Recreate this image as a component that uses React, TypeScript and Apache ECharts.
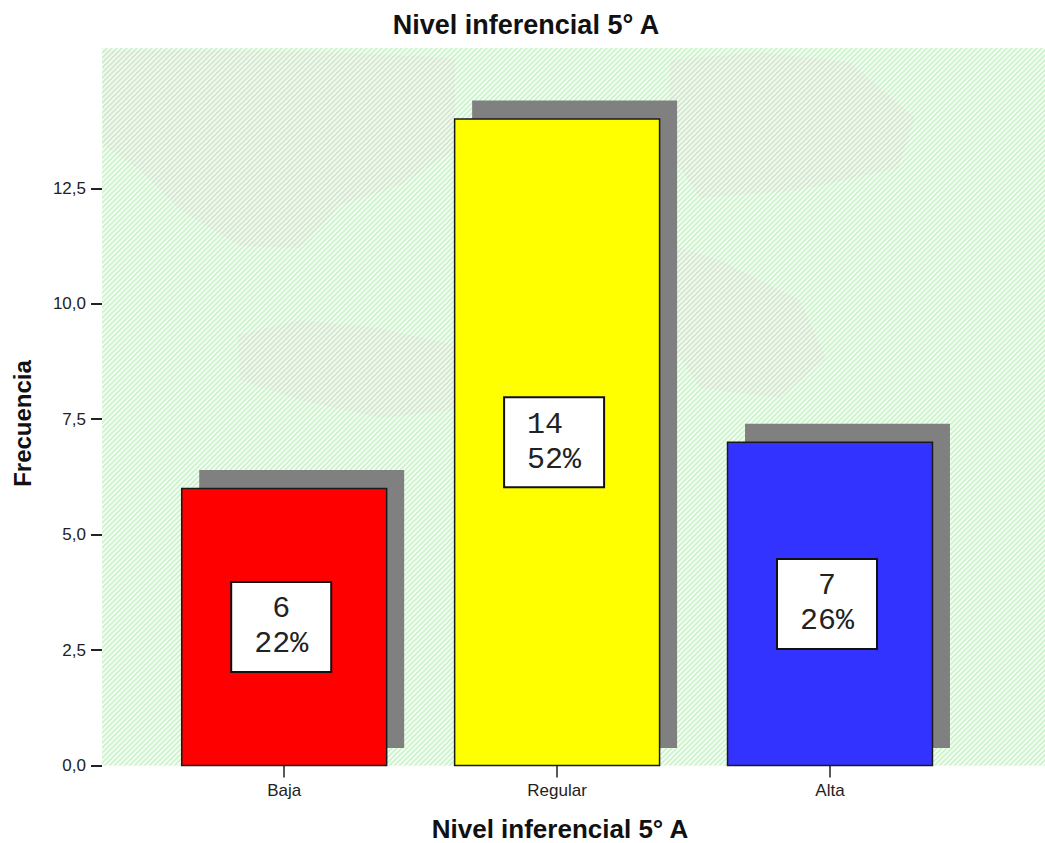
import React, { useEffect, useRef } from "react";
import * as echarts from "echarts";

const categories = ["Baja", "Regular", "Alta"];
const counts = [6, 14, 7];
const barColors = ["#ff0000", "#ffff00", "#3333ff"];
const chartTitle = "Nivel inferencial 5° A";
const xAxisName = "Nivel inferencial 5° A";
const yAxisName = "Frecuencia";

function stripePattern(bg: string, fg: string) {
  const svg = `<svg xmlns='http://www.w3.org/2000/svg' width='5' height='5'><rect width='5' height='5' fill='${bg}'/><path d='M-1 1L1 -1M0 5L5 0M4 6L6 4' stroke='${fg}' stroke-width='1.8'/></svg>`;
  return {
    image: "data:image/svg+xml;charset=utf-8," + encodeURIComponent(svg),
    repeat: "repeat",
    imageWidth: 5,
    imageHeight: 5,
  };
}

export default function App() {
  const ref = useRef<HTMLDivElement>(null);

  useEffect(() => {
    if (!ref.current) return;
    const chart = echarts.init(ref.current, undefined, { renderer: "svg" });
    const total = counts.reduce((a, b) => a + b, 0);
    const nb = "\u00a0";

    const grayFill = stripePattern("#f1f6ee", "#d6ddcf");
    const blobs = [
      [[103, 50], [200, 50], [330, 52], [455, 58], [455, 150], [400, 185], [340, 205], [300, 248], [240, 246], [180, 210], [140, 170], [103, 145]],
      [[238, 335], [300, 320], [380, 328], [455, 345], [455, 410], [380, 418], [300, 400], [240, 380]],
      [[670, 60], [760, 52], [850, 62], [915, 118], [898, 168], [800, 190], [700, 198], [668, 150]],
      [[662, 242], [720, 260], [800, 300], [826, 358], [780, 398], [700, 388], [662, 330]],
    ];

    const textStyleBold = {
      fontFamily: "'Liberation Sans', Arial, sans-serif",
      fontWeight: "bold",
      fill: "#111",
      align: "center",
      verticalAlign: "middle",
    };

    const option: any = {
      animation: false,
      graphic: [
        {
          type: "rect",
          z: 0,
          shape: { x: 102, y: 48, width: 943, height: 717.5 },
          style: { fill: "#ebf9ea" },
        },
        {
          type: "rect",
          z: 0,
          shape: { x: 102, y: 48, width: 943, height: 717.5 },
          style: { fill: stripePattern("#f6fff5", "#cdf3cd") },
        },
        ...blobs.map((pts) => ({
          type: "polygon",
          z: 0,
          shape: { points: pts },
          style: { fill: grayFill, opacity: 0.55 },
        })),
        {
          type: "text",
          z: 5,
          x: 526,
          y: 25,
          style: { ...textStyleBold, text: chartTitle, fontSize: 27 },
        },
        {
          type: "text",
          z: 5,
          x: 560,
          y: 829,
          style: { ...textStyleBold, text: xAxisName, fontSize: 26 },
        },
        {
          type: "text",
          z: 5,
          x: 22,
          y: 423.5,
          rotation: Math.PI / 2,
          style: { ...textStyleBold, text: yAxisName, fontSize: 24 },
        },
      ],
      grid: {
        left: 147.75,
        width: 818.7,
        top: 188.3,
        height: 577.2,
        containLabel: false,
      },
      xAxis: {
        type: "category",
        data: categories,
        axisLine: { show: false },
        axisTick: {
          show: true,
          alignWithLabel: true,
          length: 12,
          lineStyle: { color: "#222", width: 1.5 },
        },
        axisLabel: {
          fontSize: 17,
          color: "#222",
          margin: 16.5,
          fontFamily: "'Liberation Sans', Arial, sans-serif",
        },
        splitLine: { show: false },
      },
      yAxis: {
        type: "value",
        min: 0,
        max: 12.5,
        interval: 2.5,
        offset: 45.75,
        axisLine: { show: false },
        axisTick: {
          show: true,
          length: 11,
          lineStyle: { color: "#222", width: 2 },
        },
        axisLabel: {
          fontSize: 17,
          color: "#222",
          margin: 16,
          fontFamily: "'Liberation Sans', Arial, sans-serif",
          formatter: (v: number) => v.toFixed(1).replace(".", ","),
        },
        splitLine: { show: false },
      },
      series: [
        {
          type: "custom",
          z: 2,
          clip: false,
          data: counts.map((v, i) => [i, v]),
          renderItem: (params: any, api: any) => {
            const idx = api.value(0);
            const v = api.value(1);
            const [cx, top] = api.coord([idx, v]);
            const [, base] = api.coord([idx, 0]);
            const [, mid] = api.coord([idx, v / 2]);
            const bw = api.size([1, 0])[0] * 0.751;
            const h = base - top;
            const pct = Math.round((v / total) * 100);
            const line1 = String(v).padStart(2, nb).padEnd(3, nb);
            return {
              type: "group",
              children: [
                {
                  type: "rect",
                  shape: { x: cx - bw / 2 + 17.5, y: top - 18.5, width: bw, height: h + 1 },
                  style: { fill: "#808080" },
                },
                {
                  type: "rect",
                  shape: { x: cx - bw / 2, y: top, width: bw, height: h },
                  style: { fill: barColors[params.dataIndex], stroke: "#1a1a1a", lineWidth: 1.5 },
                },
                {
                  type: "rect",
                  shape: { x: cx - 3 - 50, y: mid - 45, width: 100, height: 90 },
                  style: { fill: "#ffffff", stroke: "#111", lineWidth: 2 },
                },
                {
                  type: "text",
                  x: cx - 3,
                  y: mid,
                  style: {
                    text: line1 + "\n" + pct + "%",
                    fontFamily: "'Liberation Mono', 'Courier New', monospace",
                    fontSize: 30,
                    lineHeight: 35,
                    fill: "#222",
                    align: "center",
                    verticalAlign: "middle",
                  },
                },
              ],
            };
          },
        },
      ],
    };

    chart.setOption(option);
    return () => {
      chart.dispose();
    };
  }, []);

  return (
    <div
      ref={ref}
      style={{ position: "fixed", left: 0, top: 0, width: 1045, height: 843, background: "#ffffff" }}
    />
  );
}
